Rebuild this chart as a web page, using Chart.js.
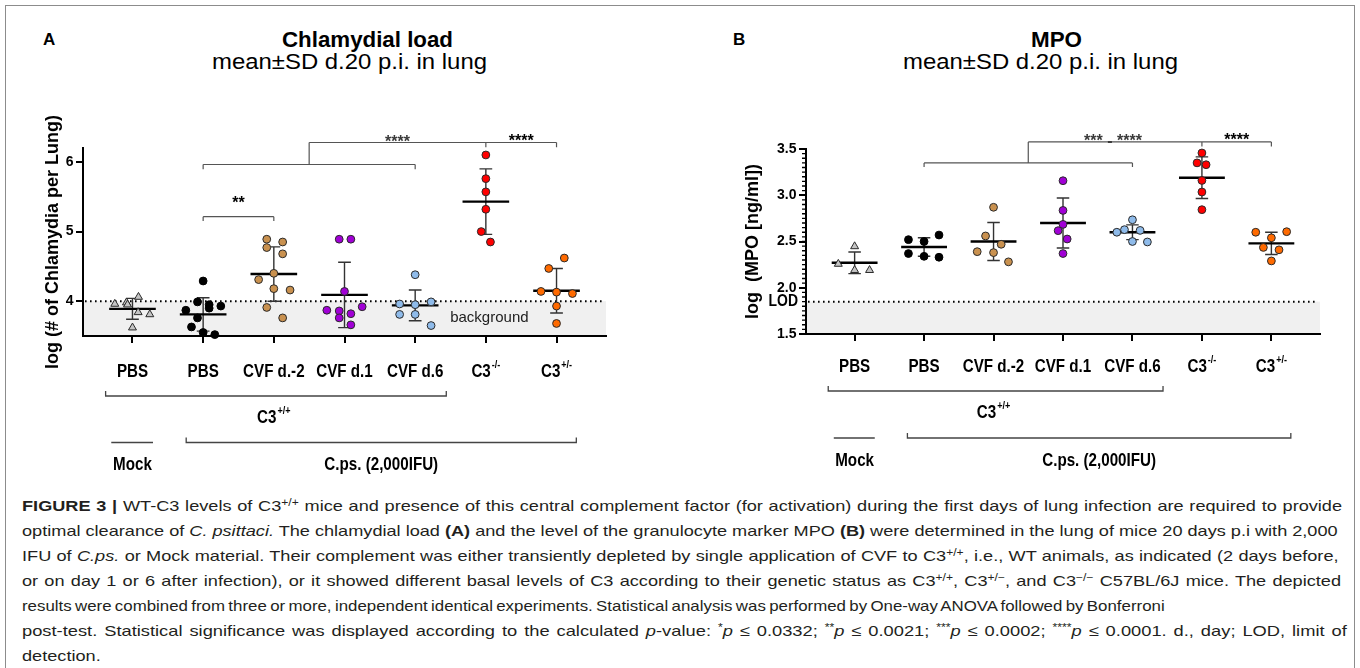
<!DOCTYPE html>
<html>
<head>
<meta charset="utf-8">
<title>Figure 3</title>
<script src="https://cdn.jsdelivr.net/npm/chart.js@4.4.1/dist/chart.umd.min.js"></script>
<style>
  html, body { margin: 0; padding: 0; background: #fff; }
  body { width: 1360px; height: 668px; position: relative; overflow: hidden;
         font-family: "Liberation Sans", Arial, Helvetica, sans-serif; color: #000; }
  #frame { position: absolute; left: 5px; top: 5px; width: 1350px; height: 720px;
           border: 1px solid #8c8c8c; box-sizing: border-box; }
  canvas { position: absolute; top: 0; }
  #chartA { left: 0; }
  #chartB { left: 680px; }
  .fit, .cap { position: absolute; white-space: nowrap; transform-origin: 0 50%; }
  .letter { position: absolute; font-weight: bold; font-size: 17px; line-height: 20px; top: 30px; }
  .title { font-weight: bold; font-size: 22px; line-height: 24px; top: 28px; }
  .sub { font-size: 22px; line-height: 24px; top: 50px; }
  .cap { left: 22px; font-size: 15px; line-height: 25px; color: #231f20; }
  .cap sup { font-size: 10px; line-height: 0; vertical-align: 5px; }
</style>
</head>
<body>
<div id="frame"></div>

<div class="letter" style="left:43px;">A</div>
<div class="fit title" data-cx="367" data-w="171">Chlamydial load</div>
<div class="fit sub" data-cx="349.5" data-w="275">mean±SD d.20 p.i. in lung</div>

<div class="letter" style="left:733px;">B</div>
<div class="fit title" data-cx="1056" data-w="51">MPO</div>
<div class="fit sub" data-cx="1040.5" data-w="275">mean±SD d.20 p.i. in lung</div>

<canvas id="chartA" width="680" height="480"></canvas>
<canvas id="chartB" width="680" height="480"></canvas>

<div class="cap" style="top:492.5px" data-w="1320"><b>FIGURE 3 |</b> WT-C3 levels of C3<sup>+/+</sup> mice and presence of this central complement factor (for activation) during the first days of lung infection are required to provide</div>
<div class="cap" style="top:517.5px" data-w="1315.6">optimal clearance of <i>C. psittaci.</i> The chlamydial load <b>(A)</b> and the level of the granulocyte marker MPO <b>(B)</b> were determined in the lung of mice 20 days p.i with 2,000</div>
<div class="cap" style="top:542.5px" data-w="1316.5">IFU of <i>C.ps.</i> or Mock material. Their complement was either transiently depleted by single application of CVF to C3<sup>+/+</sup>, i.e., WT animals, as indicated (2 days before,</div>
<div class="cap" style="top:567.5px" data-w="1319">or on day 1 or 6 after infection), or it showed different basal levels of C3 according to their genetic status as C3<sup>+/+</sup>, C3<sup>+/−</sup>, and C3<sup>−/−</sup> C57BL/6J mice. The depicted</div>
<div class="cap" style="top:592.5px" data-w="1142.6">results were combined from three or more, independent identical experiments. Statistical analysis was performed by One-way ANOVA followed by Bonferroni</div>
<div class="cap" style="top:617.5px" data-w="1324.7">post-test. Statistical significance was displayed according to the calculated <i>p</i>-value: <sup>*</sup><i>p</i> ≤ 0.0332; <sup>**</sup><i>p</i> ≤ 0.0021; <sup>***</sup><i>p</i> ≤ 0.0002; <sup>****</sup><i>p</i> ≤ 0.0001. d., day; LOD, limit of</div>
<div class="cap" style="top:642.5px">detection.</div>

<script>
var FONT = '"Liberation Sans", Arial, Helvetica, sans-serif';
var SQUEEZE = 0.82;   // the labels under the axes are a narrow bold face
Chart.defaults.font.family = FONT;
Chart.defaults.color = '#000';

// categories (same order in both panels)
var groups = ['PBS', 'PBS', 'CVF d.-2', 'CVF d.1', 'CVF d.6', 'C3', 'C3'];
var groupSup = ['', '', '', '', '', '-/-', '+/-'];
var groupPos = [1, 2, 3, 4, 5, 6, 7];
var groupColors = ['#c4c4c4', '#000000', '#c9914f', '#a100d6', '#8fbbea', '#ff0000', '#ff6a00'];

// A - log chlamydia per lung; *Dx = sideways scatter of each dot
var loadMock = [3.96, 3.98, 3.95, 4.06, 3.84, 3.81, 3.62];
var loadMockDx = [-0.25, -0.085, -0.07, 0.085, 0.08, 0.245, 0];
var loadPbs = [4.29, 3.99, 3.95, 3.90, 3.93, 3.87, 3.76, 3.63, 3.55, 3.52];
var loadPbsDx = [0, -0.08, 0.085, 0.085, 0.25, -0.245, -0.08, -0.165, 0, 0.165];
var loadCvfM2 = [4.89, 4.85, 4.77, 4.68, 4.40, 4.31, 4.18, 4.16, 3.91, 3.76];
var loadCvfM2Dx = [-0.1, 0.125, -0.1, 0.125, 0, -0.215, 0, 0.23, -0.1, 0.125];
var loadCvf1 = [4.89, 4.89, 4.14, 3.87, 3.86, 3.82, 3.76, 3.66, 3.92];
var loadCvf1Dx = [-0.075, 0.09, 0, -0.25, -0.075, 0.09, -0.075, 0.09, 0.25];
var loadCvf6 = [4.38, 3.96, 3.95, 3.99, 3.81, 3.81, 3.65];
var loadCvf6Dx = [0, -0.22, 0, 0.225, -0.22, 0, 0.225];
var loadKo = [6.10, 5.76, 5.57, 5.32, 5.00, 4.85];
var loadKoDx = [0, 0, 0, 0, -0.065, 0.065];
var loadHet = [4.62, 4.47, 4.14, 4.13, 4.11, 3.93, 3.68];
var loadHetDx = [0.11, -0.11, -0.22, 0, 0.225, 0, 0];
var loadMean = [3.89, 3.81, 4.39, 4.09, 3.94, 5.43, 4.15];
var loadSd = [0.15, 0.24, 0.39, 0.47, 0.22, 0.47, 0.32];
var loadTicks = [4, 5, 6];
var loadBackground = 4;

// B - log MPO ng/ml
var mpoMock = [2.447, 2.257, 2.19, 2.19];
var mpoMockDx = [0, -0.235, 0, 0.215];
var mpoPbs = [2.52, 2.50, 2.57, 2.37, 2.34, 2.33];
var mpoPbsDx = [-0.225, 0, 0.215, -0.225, 0, 0.215];
var mpoCvfM2 = [2.87, 2.56, 2.47, 2.39, 2.38, 2.28];
var mpoCvfM2Dx = [0, -0.115, 0.11, -0.235, 0, 0.215];
var mpoCvf1 = [3.157, 2.836, 2.685, 2.617, 2.527, 2.37];
var mpoCvf1Dx = [0, 0, 0, -0.07, 0.06, 0];
var mpoCvf6 = [2.735, 2.628, 2.60, 2.62, 2.50, 2.495];
var mpoCvf6Dx = [0, -0.115, -0.225, 0.11, 0, 0.215];
var mpoKo = [3.457, 3.35, 3.33, 3.16, 3.035, 2.844];
var mpoKoDx = [0, -0.07, 0.06, 0, 0, 0];
var mpoHet = [2.60, 2.606, 2.54, 2.436, 2.41, 2.29];
var mpoHetDx = [-0.225, 0.22, 0, -0.115, 0.11, 0];
var mpoMean = [2.27, 2.44, 2.50, 2.70, 2.60, 3.19, 2.48];
var mpoSd = [0.117, 0.10, 0.205, 0.27, 0.08, 0.225, 0.12];
var mpoTicks = [1.5, 2.0, 2.5, 3.0, 3.5];
var mpoLod = 1.85;

// significance brackets (x in group units, y in axis units)
var loadBars = [
  { from: 2, to: 3, y: 5.214, foot: 5.15 },
  { from: 2, to: 5, y: 5.963, foot: 5.895 },
  { from: 3.5, to: 7, y: 6.279, foot: 6.211, feet: [6, 7], stem: 5.963 }
];
var loadStars = [
  { text: '**', x: 2.5, y: 5.47, strong: true },
  { text: '****', x: 4.75, y: 6.341, strong: false },
  { text: '****', x: 6.5, y: 6.355, strong: true }
];
var mpoBars = [
  { from: 2, to: 5, y: 3.349, foot: 3.305 },
  { from: 3.5, to: 7, y: 3.576, foot: 3.528, feet: [6, 7], stem: 3.349 }
];
var mpoStars = [
  { text: '*** - ****', x: 4.72, y: 3.63, strong: false },
  { text: '****', x: 6.5, y: 3.64, strong: true }
];

// grouping under the axis
var wtSpan = [0.62, 5.44], wtLabelPos = 3.0;
var mockSpan = [0.7, 1.29], mockLabelPos = 1.0;
var infSpan = [1.76, 7.28], infLabelPos = 4.52;


function drawText(ctx, str, x, y, o) {
  ctx.save();
  ctx.font = (o.weight || 'bold') + ' ' + o.size + 'px ' + FONT;
  ctx.fillStyle = o.color || '#000';
  ctx.textBaseline = 'middle';
  ctx.textAlign = 'left';
  var sq = o.squeeze || 1;
  var w = ctx.measureText(str).width * sq;
  var x0 = o.align === 'center' ? x - w / 2 : (o.align === 'right' ? x - w : x);
  ctx.translate(x0, y);
  ctx.scale(sq, 1);
  ctx.fillText(str, 0, 0);
  ctx.restore();
  return w;
}

function textWidth(ctx, str, size) {
  ctx.font = 'bold ' + size + 'px ' + FONT;
  return ctx.measureText(str).width * SQUEEZE;
}

// label with optional superscript, centred on x
function drawSupLabel(ctx, base, sup, x, y, size) {
  var supSize = Math.round(size * 0.6);
  var wb = textWidth(ctx, base, size);
  var ws = sup ? textWidth(ctx, sup, supSize) + 1 : 0;
  var x0 = x - (wb + ws) / 2;
  drawText(ctx, base, x0, y, { size: size, squeeze: SQUEEZE });
  if (sup) drawText(ctx, sup, x0 + wb + 1, y - size * 0.36, { size: supSize, squeeze: SQUEEZE });
}

function makeDecor(cfg) {
  return {
    id: 'decor',
    beforeDraw: function (chart) {
      var ctx = chart.ctx, ys = chart.scales.y, a = chart.chartArea;
      var yb = ys.getPixelForValue(cfg.band);
      ctx.save();
      ctx.fillStyle = '#f0f0f0';
      ctx.fillRect(a.left, yb, a.right - a.left, a.bottom - yb);
      ctx.strokeStyle = '#000';
      ctx.lineWidth = 2;
      ctx.setLineDash([1.6, 3.4]);
      ctx.beginPath();
      ctx.moveTo(a.left + 2, yb);
      ctx.lineTo(a.right - 3, yb);
      ctx.stroke();
      ctx.restore();
    },
    beforeDatasetsDraw: function (chart) {
      var ctx = chart.ctx, xs = chart.scales.x, ys = chart.scales.y;
      ctx.save();
      cfg.mean.forEach(function (m, i) {
        var xc = xs.getPixelForValue(groupPos[i]);
        var hw = xs.getPixelForValue(groupPos[i] + 0.33) - xc;
        var cw = xs.getPixelForValue(groupPos[i] + 0.09) - xc;
        var yt = ys.getPixelForValue(m + cfg.sd[i]);
        var ybt = ys.getPixelForValue(m - cfg.sd[i]);
        var ym = ys.getPixelForValue(m);
        ctx.strokeStyle = '#333';
        ctx.lineWidth = 1.4;
        ctx.beginPath();
        ctx.moveTo(xc, yt); ctx.lineTo(xc, ybt);
        ctx.moveTo(xc - cw, yt); ctx.lineTo(xc + cw, yt);
        ctx.moveTo(xc - cw, ybt); ctx.lineTo(xc + cw, ybt);
        ctx.stroke();
        ctx.strokeStyle = '#000';
        ctx.lineWidth = 2.4;
        ctx.beginPath();
        ctx.moveTo(xc - hw, ym); ctx.lineTo(xc + hw, ym);
        ctx.stroke();
      });
      ctx.restore();
    },
    afterDraw: function (chart) {
      var ctx = chart.ctx, xs = chart.scales.x, ys = chart.scales.y, a = chart.chartArea;
      var X = function (v) { return xs.getPixelForValue(v); };
      var Y = function (v) { return ys.getPixelForValue(v); };
      var r = cfg.rows;
      ctx.save();

      // minor ticks on the MPO axis
      if (cfg.minorStep) {
        var n = Math.round((ys.max - ys.min) / cfg.minorStep);
        ctx.strokeStyle = '#000';
        ctx.lineWidth = 1.3;
        ctx.beginPath();
        for (var k = 0; k <= n; k++) {
          var py = Y(ys.min + k * cfg.minorStep);
          ctx.moveTo(a.left - 4, py);
          ctx.lineTo(a.left, py);
        }
        ctx.stroke();
      }
      if (cfg.lodText) drawText(ctx, cfg.lodText, a.left - 8, Y(cfg.band), { size: 17, align: 'right', squeeze: SQUEEZE });
      if (cfg.bandText) drawText(ctx, cfg.bandText, X(6.05), Y(3.765), { size: 15, weight: 'normal', align: 'center', color: '#222' });

      // category labels
      groups.forEach(function (g, i) {
        drawSupLabel(ctx, g, groupSup[i], X(groupPos[i]), a.bottom + r[0], 18.5);
      });

      // grouping brackets under the labels
      ctx.strokeStyle = '#444';
      ctx.lineWidth = 1.3;
      ctx.beginPath();
      var yw = a.bottom + r[1];
      ctx.moveTo(X(wtSpan[0]), yw - 5); ctx.lineTo(X(wtSpan[0]), yw);
      ctx.lineTo(X(wtSpan[1]), yw); ctx.lineTo(X(wtSpan[1]), yw - 5);
      var yl = a.bottom + r[3];
      ctx.moveTo(X(mockSpan[0]), yl); ctx.lineTo(X(mockSpan[1]), yl);
      ctx.moveTo(X(infSpan[0]), yl - 5); ctx.lineTo(X(infSpan[0]), yl);
      ctx.lineTo(X(infSpan[1]), yl); ctx.lineTo(X(infSpan[1]), yl - 5);
      ctx.stroke();
      drawSupLabel(ctx, 'C3', '+/+', X(wtLabelPos), a.bottom + r[2], 18.5);
      drawText(ctx, 'Mock', X(mockLabelPos), a.bottom + r[4], { size: 18.5, align: 'center', squeeze: SQUEEZE });
      drawText(ctx, 'C.ps. (2,000IFU)', X(infLabelPos), a.bottom + r[4], { size: 18.5, align: 'center', squeeze: SQUEEZE });

      // significance brackets
      ctx.strokeStyle = '#555';
      ctx.lineWidth = 1.2;
      cfg.bars.forEach(function (b) {
        ctx.beginPath();
        ctx.moveTo(X(b.from), Y(b.y)); ctx.lineTo(X(b.to), Y(b.y));
        (b.feet || [b.from, b.to]).forEach(function (f) {
          ctx.moveTo(X(f), Y(b.y)); ctx.lineTo(X(f), Y(b.foot));
        });
        if (b.stem !== undefined) { ctx.moveTo(X(b.from), Y(b.y)); ctx.lineTo(X(b.from), Y(b.stem)); }
        ctx.stroke();
      });
      cfg.stars.forEach(function (s) {
        ctx.font = 'bold 16px ' + FONT;
        ctx.fillStyle = s.strong ? '#000' : '#3a3a3a';
        ctx.textAlign = 'center';
        ctx.textBaseline = 'alphabetic';
        ctx.fillText(s.text, X(s.x), Y(s.y) + 16 * 0.57);
      });
      ctx.restore();
    }
  };
}

function buildDatasets(values, jitter) {
  return values.map(function (vals, g) {
    return {
      data: vals.map(function (v, i) { return { x: groupPos[g] + jitter[g][i], y: v }; }),
      pointStyle: g === 0 ? 'triangle' : 'circle',
      pointRadius: g === 0 ? 4.6 : 3.9,
      backgroundColor: groupColors[g],
      borderColor: g === 1 ? '#000' : '#2a2a2a',
      borderWidth: 1,
      clip: false
    };
  });
}

function axisOptions(o) {
  return {
    x: {
      type: 'linear', min: 0.3, max: 7.7,
      afterBuildTicks: function (s) { s.ticks = groupPos.map(function (v) { return { value: v }; }); },
      afterFit: function (s) { s.height = 10; },
      ticks: { display: false },
      grid: { drawOnChartArea: false, color: '#000', lineWidth: 2, tickLength: 7 },
      border: { color: '#000', width: 2 }
    },
    y: {
      min: o.min, max: o.max,
      afterBuildTicks: function (s) { s.ticks = o.ticks.map(function (v) { return { value: v }; }); },
      afterFit: function (s) { s.width = o.width; },
      ticks: {
        font: { size: 14, weight: 'bold' }, color: '#000', padding: 2.5,
        callback: function (v) { return o.decimals ? v.toFixed(1) : String(v); }
      },
      grid: { drawOnChartArea: false, color: '#000', lineWidth: 2, tickLength: 7 },
      border: { color: '#000', width: 2 },
      title: { display: true, text: o.title, color: '#000', font: { size: 18, weight: 'bold' }, padding: { top: 0, bottom: 0 } }
    }
  };
}

function makeChart(id, values, jitter, axis, pad, decor) {
  return new Chart(document.getElementById(id), {
    type: 'scatter',
    data: { datasets: buildDatasets(values, jitter) },
    options: {
      responsive: false,
      animation: false,
      devicePixelRatio: 1,
      events: [],
      layout: { padding: pad },
      plugins: { legend: { display: false }, tooltip: { enabled: false } },
      scales: axisOptions(axis)
    },
    plugins: [makeDecor(decor)]
  });
}

makeChart('chartA',
  [loadMock, loadPbs, loadCvfM2, loadCvf1, loadCvf6, loadKo, loadHet],
  [loadMockDx, loadPbsDx, loadCvfM2Dx, loadCvf1Dx, loadCvf6Dx, loadKoDx, loadHetDx],
  { min: 3.5, max: 6.2, ticks: loadTicks, width: 41, decimals: false, title: 'log (# of Chlamydia per Lung)' },
  { left: 42, right: 74, top: 148, bottom: 134 },
  { band: loadBackground, bandText: 'background', mean: loadMean, sd: loadSd,
    bars: loadBars, stars: loadStars, rows: [36, 60, 82, 106.5, 129] });

makeChart('chartB',
  [mpoMock, mpoPbs, mpoCvfM2, mpoCvf1, mpoCvf6, mpoKo, mpoHet],
  [mpoMockDx, mpoPbsDx, mpoCvfM2Dx, mpoCvf1Dx, mpoCvf6Dx, mpoKoDx, mpoHetDx],
  { min: 1.5, max: 3.5, ticks: mpoTicks, width: 64, decimals: true, title: 'log  (MPO [ng/ml])' },
  { left: 62, right: 40, top: 149, bottom: 136 },
  { band: mpoLod, lodText: 'LOD', minorStep: 0.05, mean: mpoMean, sd: mpoSd,
    bars: mpoBars, stars: mpoStars, rows: [33, 57, 78.5, 104, 127] });

// titles: stretch each to the width it has in the figure
var fits = document.querySelectorAll('.fit');
for (var i = 0; i < fits.length; i++) {
  var el = fits[i];
  var w = el.getBoundingClientRect().width;
  var target = parseFloat(el.getAttribute('data-w'));
  el.style.left = (parseFloat(el.getAttribute('data-cx')) - target / 2) + 'px';
  el.style.transform = 'scaleX(' + (target / w).toFixed(4) + ')';
}

// caption: a common horizontal scale, then each line takes up what is left
// first with a little word spacing, and the rest with its own small scale
var caps = document.querySelectorAll('.cap');
var natural = [], ratioSum = 0, ratioCount = 0;
for (var j = 0; j < caps.length; j++) {
  natural[j] = caps[j].getBoundingClientRect().width;
  if (caps[j].hasAttribute('data-w')) {
    ratioSum += parseFloat(caps[j].getAttribute('data-w')) / natural[j];
    ratioCount++;
  }
}
var capScale = ratioSum / ratioCount;
for (var k = 0; k < caps.length; k++) {
  var c = caps[k];
  var sc = capScale;
  if (c.hasAttribute('data-w')) {
    var goal = parseFloat(c.getAttribute('data-w'));
    var spaces = (c.textContent.match(/ /g) || []).length;
    var extra = (goal / capScale - natural[k]) / spaces;
    extra = Math.max(-1.2, Math.min(1.5, extra));
    c.style.wordSpacing = extra.toFixed(3) + 'px';
    sc = goal / (natural[k] + extra * spaces);
  }
  c.style.transform = 'scaleX(' + sc.toFixed(4) + ')';
}
</script>
</body>
</html>
